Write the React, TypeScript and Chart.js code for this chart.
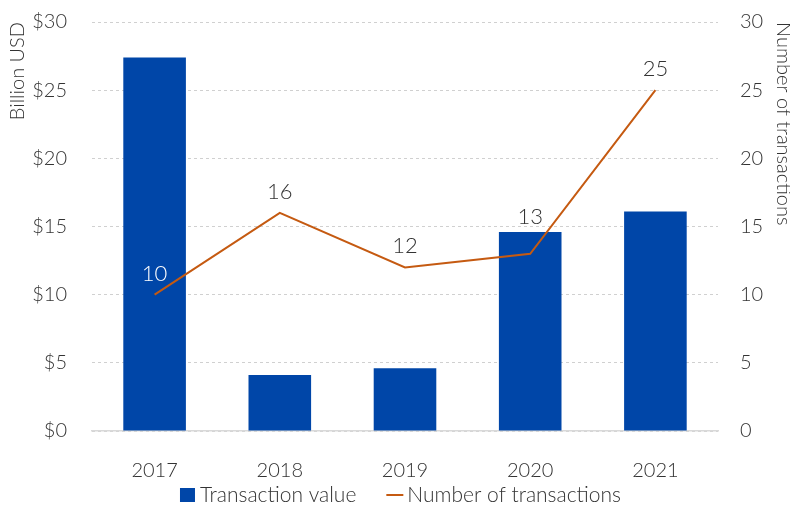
import React, { useEffect, useRef } from "react";
import { Chart, registerables } from "chart.js";

Chart.register(...registerables);

const years = ["2017", "2018", "2019", "2020", "2021"];
const transactionValue = [27.4, 4.1, 4.6, 14.6, 16.1];
const transactionCount = [10, 16, 12, 13, 25];
const axisTicks = [0, 5, 10, 15, 20, 25, 30];

const FONT = "Lato";
const TEXT = "#333333";
const BAR = "#0046A8";
const LINE = "#C55A11";

const labelPlugin = {
  id: "pointLabels",
  afterDatasetsDraw(chart: any) {
    const ctx = chart.ctx;
    const lineMeta = chart.getDatasetMeta(1);
    const barMeta = chart.getDatasetMeta(0);
    ctx.save();
    ctx.font = `300 22px ${FONT}`;
    ctx.textAlign = "center";
    ctx.textBaseline = "middle";
    lineMeta.data.forEach((pt: any, i: number) => {
      const bar = barMeta.data[i];
      let y = pt.y - 21;
      const half = 10;
      if (bar && y - half < bar.y && y + half > bar.y) {
        y = bar.y - 15;
      }
      const inside = bar && y - half > bar.y;
      ctx.fillStyle = inside ? "#ffffff" : TEXT;
      ctx.fillText(String(transactionCount[i]), pt.x, y);
    });
    ctx.restore();
  },
};

const legendPlugin = {
  id: "customLegend",
  afterDraw(chart: any) {
    const ctx = chart.ctx;
    const ds = chart.data.datasets;
    ctx.save();
    ctx.font = `300 21px ${FONT}`;
    ctx.textBaseline = "middle";
    ctx.textAlign = "left";
    const symW = 17;
    const gap = 4;
    const itemGap = 30;
    const widths = ds.map((d: any) => symW + gap + ctx.measureText(d.label).width);
    const total = widths.reduce((a: number, b: number) => a + b, 0) + itemGap * (ds.length - 1);
    let x = 400 - total / 2;
    const cy = 495;
    ds.forEach((d: any, i: number) => {
      if (d.type === "line") {
        ctx.strokeStyle = d.borderColor;
        ctx.lineWidth = 2;
        ctx.beginPath();
        ctx.moveTo(x, cy);
        ctx.lineTo(x + symW, cy);
        ctx.stroke();
      } else {
        ctx.fillStyle = d.backgroundColor;
        ctx.fillRect(x + 1, cy - 7, 15, 14);
      }
      ctx.fillStyle = TEXT;
      ctx.fillText(d.label, x + symW + gap, cy);
      x += widths[i] + itemGap;
    });
    ctx.restore();
  },
};

const zeroPad = (axis: any) => {
  axis.paddingTop = 0;
  axis.paddingBottom = 0;
};

export default function App() {
  const ref = useRef<HTMLCanvasElement>(null);
  useEffect(() => {
    document.body.style.margin = "0";
    const chart = new Chart(ref.current!, {
      type: "bar",
      data: {
        labels: years,
        datasets: [
          {
            type: "bar",
            label: "Transaction value",
            data: transactionValue,
            backgroundColor: BAR,
            borderWidth: 0,
            categoryPercentage: 1,
            barPercentage: 0.5,
            yAxisID: "y",
            order: 2,
          } as any,
          {
            type: "line",
            label: "Number of transactions",
            data: transactionCount,
            borderColor: LINE,
            backgroundColor: LINE,
            borderWidth: 2,
            pointRadius: 0,
            tension: 0,
            yAxisID: "y1",
            order: 1,
          } as any,
        ],
      },
      options: {
        animation: false,
        responsive: false,
        maintainAspectRatio: false,
        layout: { padding: { left: 0, right: 0, top: 22, bottom: 26 } },
        plugins: {
          tooltip: { enabled: false },
          legend: { display: false },
        },
        scales: {
          x: {
            grid: { display: false },
            border: { display: true, color: "#d9d9d9", width: 1.5 },
            ticks: {
              color: TEXT,
              font: { family: FONT, size: 20, weight: "300" },
              padding: 20,
            },
            afterFit: (axis: any) => {
              axis.height = 50;
              axis.paddingLeft = 0;
              axis.paddingRight = 0;
            },
          },
          y: {
            position: "left",
            min: 0,
            max: 30,
            afterBuildTicks: (axis: any) => {
              axis.ticks = axisTicks.map((v) => ({ value: v }));
            },
            grid: { color: "#d0d0d0", lineWidth: 1, drawTicks: false },
            border: { display: false, dash: [3, 3] },
            ticks: {
              color: TEXT,
              font: { family: FONT, size: 20, weight: "300" },
              padding: 25,
              callback: (v: any) => "$" + v,
            },
            title: {
              display: true,
              text: "Billion USD",
              align: "end",
              color: TEXT,
              font: { family: FONT, size: 20, weight: "300" },
              padding: { top: 6, bottom: 0 },
            },
            afterFit: (axis: any) => {
              axis.width = 92;
              zeroPad(axis);
            },
          },
          y1: {
            position: "right",
            min: 0,
            max: 30,
            afterBuildTicks: (axis: any) => {
              axis.ticks = axisTicks.map((v) => ({ value: v }));
            },
            grid: { display: false, drawTicks: false },
            border: { display: false },
            ticks: {
              color: TEXT,
              font: { family: FONT, size: 20, weight: "300" },
              padding: 22,
            },
            title: {
              display: true,
              text: "Number of transactions",
              align: "end",
              color: TEXT,
              font: { family: FONT, size: 20, weight: "300" },
              padding: { top: -5, bottom: 0 },
            },
            afterFit: (axis: any) => {
              axis.width = 72;
              zeroPad(axis);
            },
          },
        },
      } as any,
      plugins: [labelPlugin, legendPlugin],
    });
    return () => chart.destroy();
  }, []);
  return (
    <div style={{ position: "absolute", left: 0, top: 0, width: 790, height: 507 }}>
      <canvas ref={ref} width={790} height={507} style={{ display: "block" }} />
    </div>
  );
}
